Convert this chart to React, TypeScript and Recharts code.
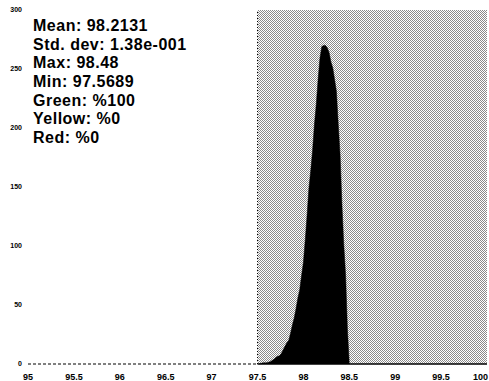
import React from "react";
import {
  ComposedChart,
  Area,
  XAxis,
  YAxis,
  ReferenceArea,
  ReferenceLine,
} from "recharts";

const binCenters = [
  97.52, 97.54, 97.56, 97.58, 97.6, 97.62, 97.64, 97.66, 97.68, 97.7, 97.72, 97.74,
  97.76, 97.78, 97.8, 97.82, 97.84, 97.86, 97.88, 97.9, 97.92, 97.94, 97.96, 97.98,
  98.0, 98.02, 98.04, 98.06, 98.08, 98.1, 98.12, 98.14, 98.16, 98.18, 98.2, 98.22,
  98.24, 98.26, 98.28, 98.3, 98.32, 98.34, 98.36, 98.38, 98.4, 98.42, 98.44, 98.46,
  98.48, 98.5,
];
const binCounts = [
  0, 0.5, 1, 1, 1, 1.5, 2, 3, 4, 5.5, 6.5, 7,
  9, 12, 15, 18, 20, 26, 33, 39, 47, 56, 63, 75,
  86, 105, 126, 149, 164, 181, 203, 220, 241, 259, 269, 270,
  270, 268, 264, 256, 251, 241, 231, 203, 177, 135, 101, 75,
  29, 0,
];
const xTicks = [95, 95.5, 96, 96.5, 97, 97.5, 98, 98.5, 99, 99.5, 100];
const yTicks = [0, 50, 100, 150, 200, 250, 300];
const statLines = [
  "Mean: 98.2131",
  "Std. dev: 1.38e-001",
  "Max: 98.48",
  "Min: 97.5689",
  "Green: %100",
  "Yellow: %0",
  "Red: %0",
];
const statBaselines = [31, 50, 68, 87, 106, 124, 143];

const data = binCenters.map((v, i) => ({ v, c: binCounts[i] }));

function XTick(props: any) {
  const { x, y, payload } = props;
  const isLast = payload.value === xTicks[xTicks.length - 1];
  return (
    <text
      x={isLast ? 488 : x}
      y={y}
      dy={8}
      textAnchor={isLast ? "end" : "middle"}
      fontSize={9}
      fontWeight="bold"
      fontFamily="Liberation Sans"
      fill="#000"
    >
      {String(payload.value)}
    </text>
  );
}

export default function App() {
  return (
    <div style={{ position: "absolute", left: 0, top: 0, width: 489, height: 381, background: "#fff" }}>
      <ComposedChart
        width={489}
        height={381}
        data={data}
        margin={{ top: 10, right: 2, bottom: 0, left: 0 }}
      >
        <defs>
          <pattern id="dither" x="0" y="0" width="2" height="2" patternUnits="userSpaceOnUse">
            <rect x="0" y="0" width="2" height="2" fill="#ffffff" />
            <rect x="0" y="0" width="1" height="1" fill="#8a8a8a" />
            <rect x="1" y="1" width="1" height="1" fill="#8a8a8a" />
          </pattern>
        </defs>
        <XAxis
          dataKey="v"
          type="number"
          domain={[95, 100]}
          ticks={xTicks}
          interval={0}
          axisLine={false}
          tickLine={false}
          height={17}
          tick={<XTick />}
          tickMargin={2}
          allowDataOverflow
        />
        <YAxis
          type="number"
          domain={[0, 300]}
          ticks={yTicks}
          interval={0}
          axisLine={false}
          tickLine={false}
          width={28}
          tick={{ fontSize: 7, fontWeight: "bold", fill: "#000", fontFamily: "Liberation Sans" }}
          tickMargin={0}
        />
        <ReferenceArea
          x1={97.5}
          x2={100}
          y1={0}
          y2={300}
          fill="url(#dither)"
          fillOpacity={1}
          stroke="none"
        />
        <ReferenceLine x={97.5} stroke="#000" strokeDasharray="1 2" />
        <ReferenceLine
          segment={[{ x: 95, y: 0 }, { x: 97.5, y: 0 }]}
          stroke="#000"
          strokeDasharray="3 2"
        />
        <ReferenceLine
          segment={[{ x: 97.5, y: 0 }, { x: 100, y: 0 }]}
          stroke="#000"
          strokeWidth={1.5}
        />
        <Area
          dataKey="c"
          type="linear"
          stroke="#000"
          strokeWidth={0.5}
          fill="#000"
          fillOpacity={1}
          isAnimationActive={false}
          dot={false}
          activeDot={false}
        />
      </ComposedChart>
      <svg
        width={200}
        height={160}
        style={{ position: "absolute", left: 0, top: 0, pointerEvents: "none" }}
      >
        {statLines.map((t, i) => (
          <text
            key={t}
            x={33}
            y={statBaselines[i]}
            fontFamily="Liberation Sans"
            fontWeight="bold"
            fontSize={16}
            letterSpacing={0.5}
            fill="#000"
          >
            {t}
          </text>
        ))}
      </svg>
    </div>
  );
}
